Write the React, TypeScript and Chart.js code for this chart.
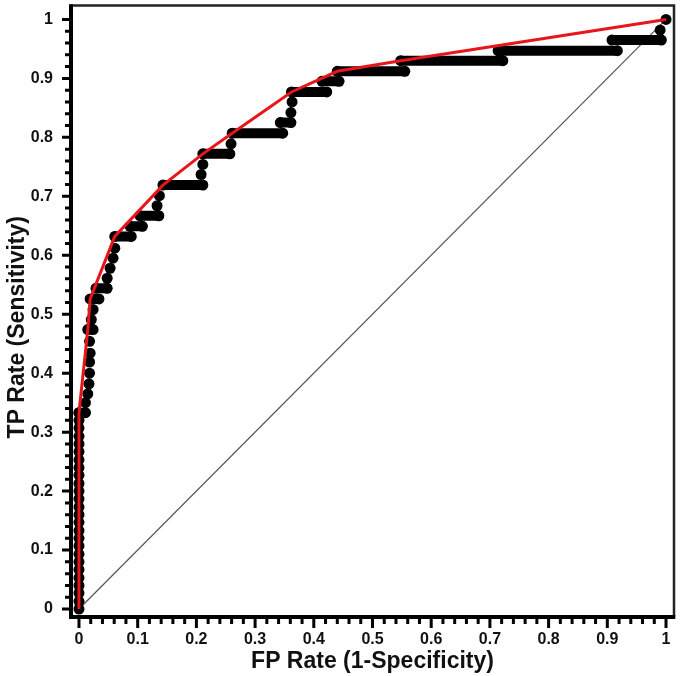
import React, { useEffect, useRef } from 'react';
import { Chart, registerables } from 'chart.js';

Chart.register(...registerables);

// ---------- axis ticks ----------
const MAJOR_TICKS = [0, 0.1, 0.2, 0.3, 0.4, 0.5, 0.6, 0.7, 0.8, 0.9, 1];
const TICK_LABELS = ['0', '0.1', '0.2', '0.3', '0.4', '0.5', '0.6', '0.7', '0.8', '0.9', '1'];
const MINOR_DIVISIONS = 5;

const X_TITLE = 'FP Rate (1-Specificity)';
const Y_TITLE = 'TP Rate (Sensitivity)';

// ---------- ROC data ----------
// dots on the FP rate = 0 column (TP rate values)
const ZERO_FPR_TPR = [
  0, 0.013, 0.027, 0.04, 0.053, 0.067, 0.08, 0.093, 0.107, 0.12, 0.133, 0.147, 0.16,
  0.173, 0.187, 0.2, 0.213, 0.227, 0.24, 0.253, 0.267, 0.28, 0.293, 0.307, 0.32, 0.333,
];
// single dots on the vertical parts of the steps [FP rate, TP rate]
const STEP_DOTS: [number, number][] = [
  [0.011, 0.35], [0.015, 0.365], [0.017, 0.382], [0.018, 0.4], [0.018, 0.419],
  [0.019, 0.434], [0.018, 0.454],
  [0.021, 0.491], [0.024, 0.508],
  [0.048, 0.561], [0.053, 0.578], [0.058, 0.595], [0.061, 0.612],
  [0.133, 0.684], [0.137, 0.701],
  [0.208, 0.737], [0.211, 0.754],
  [0.259, 0.789],
  [0.361, 0.842], [0.363, 0.86],
  [0.99, 0.982], [1, 1],
];
// horizontal runs of dots [TP rate, FP rate start, FP rate end]
const STEP_RUNS: [number, number, number][] = [
  [0.333, 0, 0.011],
  [0.474, 0.015, 0.024],
  [0.526, 0.019, 0.034],
  [0.544, 0.029, 0.048],
  [0.632, 0.061, 0.089],
  [0.649, 0.087, 0.108],
  [0.667, 0.104, 0.136],
  [0.719, 0.143, 0.211],
  [0.772, 0.211, 0.257],
  [0.807, 0.261, 0.347],
  [0.825, 0.343, 0.361],
  [0.877, 0.362, 0.422],
  [0.895, 0.414, 0.443],
  [0.912, 0.44, 0.555],
  [0.93, 0.548, 0.722],
  [0.947, 0.714, 0.917],
  [0.965, 0.908, 0.992],
];
// convex hull (red line)
const HULL_FPR = [0, 0, 0.015, 0.019, 0.061, 0.143, 0.211, 0.261, 0.362, 0.44, 0.548, 1];
const HULL_TPR = [0, 0.333, 0.474, 0.526, 0.632, 0.719, 0.772, 0.807, 0.877, 0.912, 0.93, 1];
// chance diagonal
const CHANCE_FPR = [0, 1];
const CHANCE_TPR = [0, 1];

const FONT_FAMILY = '"Liberation Sans", Arial, Helvetica, sans-serif';

const framePlugin = {
  id: 'rocFrame',
  afterDraw(chart: any) {
    const { ctx, chartArea } = chart;
    const { left, right, top, bottom } = chartArea;
    const xs = chart.scales.x;
    const ys = chart.scales.y;
    ctx.save();
    // thin top/right border
    ctx.strokeStyle = '#222';
    ctx.lineWidth = 2.5;
    ctx.beginPath();
    ctx.moveTo(left, top);
    ctx.lineTo(right, top);
    ctx.lineTo(right, bottom);
    ctx.stroke();
    // thick left/bottom axes
    ctx.strokeStyle = '#000';
    ctx.lineWidth = 4;
    ctx.beginPath();
    ctx.moveTo(left, top - 1.25);
    ctx.lineTo(left, bottom);
    ctx.lineTo(right + 1.25, bottom);
    ctx.stroke();
    // ticks
    const minor: number[] = [];
    for (let i = 0; i < MAJOR_TICKS.length - 1; i++) {
      const a = MAJOR_TICKS[i];
      const b = MAJOR_TICKS[i + 1];
      for (let k = 1; k < MINOR_DIVISIONS; k++) minor.push(a + ((b - a) * k) / MINOR_DIVISIONS);
    }
    ctx.lineWidth = 3;
    ctx.lineCap = 'butt';
    ctx.beginPath();
    MAJOR_TICKS.forEach((v) => {
      const px = xs.getPixelForValue(v);
      ctx.moveTo(px, bottom);
      ctx.lineTo(px, bottom + 11);
      const py = ys.getPixelForValue(v);
      ctx.moveTo(left, py);
      ctx.lineTo(left - 9, py);
    });
    minor.forEach((v) => {
      const px = xs.getPixelForValue(v);
      ctx.moveTo(px, bottom);
      ctx.lineTo(px, bottom + 7);
      const py = ys.getPixelForValue(v);
      ctx.moveTo(left, py);
      ctx.lineTo(left - 6, py);
    });
    ctx.stroke();
    ctx.restore();
  },
};

export default function App() {
  const canvasRef = useRef<HTMLCanvasElement | null>(null);

  useEffect(() => {
    if (!canvasRef.current) return;

    const dotPoints = [
      ...ZERO_FPR_TPR.map((y) => ({ x: 0, y })),
      ...STEP_DOTS.map(([x, y]) => ({ x, y })),
    ];
    const runPoints: any[] = [];
    STEP_RUNS.forEach(([tp, f0, f1]) => {
      runPoints.push({ x: f0, y: tp }, { x: f1, y: tp }, { x: f1, y: null });
    });
    const hullPoints = HULL_FPR.map((x, i) => ({ x, y: HULL_TPR[i] }));
    const chancePoints = CHANCE_FPR.map((x, i) => ({ x, y: CHANCE_TPR[i] }));

    const tickFont = { family: FONT_FAMILY, size: 16, weight: 'bold' as const };
    const titleFont = { family: FONT_FAMILY, size: 23, weight: 'bold' as const };

    const chart = new Chart(canvasRef.current, {
      type: 'scatter',
      data: {
        datasets: [
          {
            label: 'Convex hull',
            data: hullPoints,
            showLine: true,
            borderColor: '#e8161b',
            borderWidth: 3,
            pointRadius: 0,
            order: 0,
          },
          {
            label: 'ROC points',
            data: dotPoints,
            showLine: false,
            pointRadius: 5.5,
            pointBackgroundColor: '#000',
            pointBorderWidth: 0,
            order: 1,
          },
          {
            label: 'ROC runs',
            data: runPoints,
            showLine: true,
            spanGaps: false,
            borderColor: '#000',
            borderWidth: 10,
            borderCapStyle: 'round',
            pointRadius: 5.5,
            pointBackgroundColor: '#000',
            pointBorderWidth: 0,
            order: 2,
          },
          {
            label: 'Chance',
            data: chancePoints,
            showLine: true,
            borderColor: '#555',
            borderWidth: 1.2,
            pointRadius: 0,
            order: 3,
          },
        ],
      },
      options: {
        animation: false,
        responsive: false,
        devicePixelRatio: 1,
        layout: { padding: { top: 3, right: 6, left: 0, bottom: 0 } },
        plugins: {
          legend: { display: false },
          tooltip: { enabled: false },
        },
        scales: {
          x: {
            type: 'linear',
            min: -0.0136,
            max: 1.0136,
            afterBuildTicks: (s: any) => {
              s.ticks = MAJOR_TICKS.map((v) => ({ value: v }));
            },
            afterFit: (s: any) => {
              s.height = 59;
              s.paddingLeft = 0;
              s.paddingRight = 0;
            },
            ticks: {
              autoSkip: false,
              maxRotation: 0,
              padding: 5,
              color: '#111',
              font: tickFont,
              callback: (_v: any, i: number) => TICK_LABELS[i],
            },
            grid: {
              display: true,
              drawOnChartArea: false,
              drawTicks: true,
              tickLength: 8,
              tickColor: 'rgba(0,0,0,0)',
              color: 'rgba(0,0,0,0)',
            },
            border: { display: false },
            title: {
              display: true,
              text: X_TITLE,
              color: '#111',
              font: titleFont,
              padding: { top: 0, bottom: 1 },
            },
          },
          y: {
            type: 'linear',
            min: -0.0135,
            max: 1.0236,
            afterBuildTicks: (s: any) => {
              s.ticks = MAJOR_TICKS.map((v) => ({ value: v }));
            },
            afterFit: (s: any) => {
              s.width = 71;
              s.paddingTop = 0;
              s.paddingBottom = 0;
            },
            ticks: {
              autoSkip: false,
              padding: 10,
              color: '#111',
              font: tickFont,
              callback: (_v: any, i: number) => TICK_LABELS[i],
            },
            grid: {
              display: true,
              drawOnChartArea: false,
              drawTicks: true,
              tickLength: 8,
              tickColor: 'rgba(0,0,0,0)',
              color: 'rgba(0,0,0,0)',
            },
            border: { display: false },
            title: {
              display: true,
              // trailing spaces nudge the centred title slightly lower, as in the reference
              text: Y_TITLE + '     ',
              color: '#111',
              font: titleFont,
              padding: { top: 4, bottom: 0 },
            },
          },
        },
      },
      plugins: [framePlugin],
    });

    return () => {
      chart.destroy();
    };
  }, []);

  return (
    <div style={{ position: 'fixed', left: 0, top: 0, width: 680, height: 676, background: '#fff' }}>
      <canvas ref={canvasRef} width={680} height={676} style={{ display: 'block' }} />
    </div>
  );
}
